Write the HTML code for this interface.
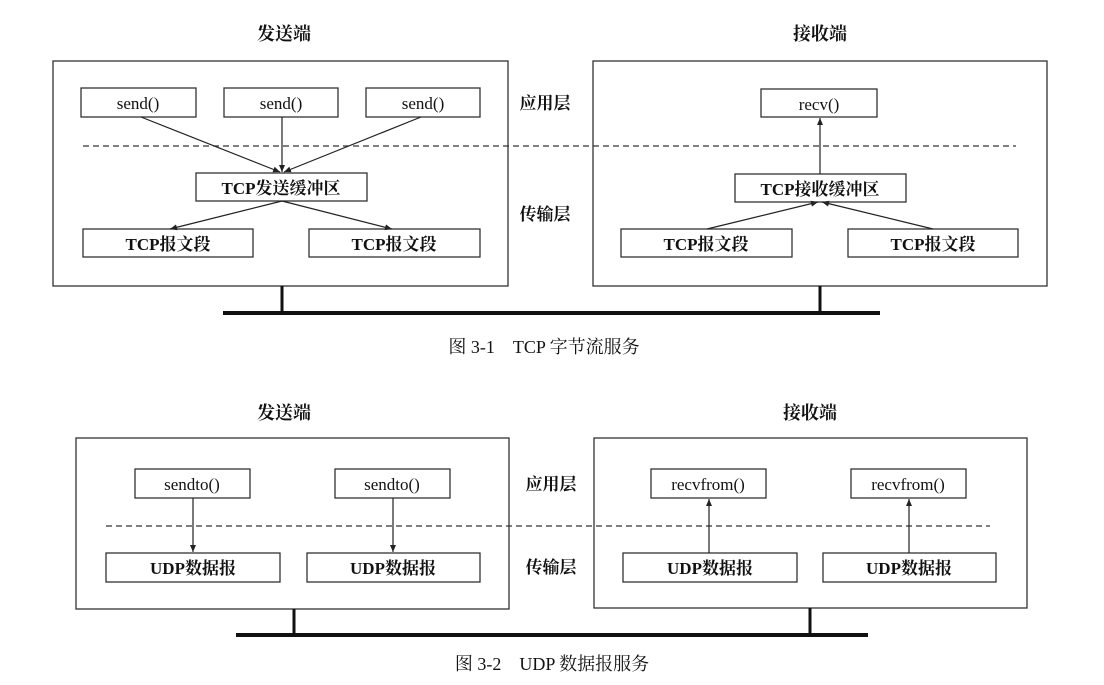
<!DOCTYPE html>
<html><head><meta charset="utf-8"><style>
html,body{margin:0;padding:0;background:#fff;}
svg{display:block;}
text{font-family:"Liberation Serif","Noto Serif CJK SC","Noto Sans CJK SC",serif;fill:#111;}
.b{font-weight:bold;}
</style></head><body>
<svg width="1104" height="685" viewBox="0 0 1104 685" xmlns="http://www.w3.org/2000/svg">
<defs>
<marker id="a" markerWidth="8" markerHeight="8" refX="7" refY="3" orient="auto" markerUnits="userSpaceOnUse"><path d="M0,0 L7,3 L0,6 z" fill="#222"/></marker>
</defs>
<g stroke="#333" fill="none" stroke-width="1.3">
<!-- TCP -->
<rect x="53" y="61" width="455" height="225"/>
<rect x="593" y="61" width="454" height="225"/>
<rect x="81" y="88" width="115" height="29"/>
<rect x="224" y="88" width="114" height="29"/>
<rect x="366" y="88" width="114" height="29"/>
<rect x="196" y="173" width="171" height="28"/>
<rect x="83" y="229" width="170" height="28"/>
<rect x="309" y="229" width="171" height="28"/>
<rect x="761" y="89" width="116" height="28"/>
<rect x="735" y="174" width="171" height="28"/>
<rect x="621" y="229" width="171" height="28"/>
<rect x="848" y="229" width="170" height="28"/>
<line x1="83" y1="146" x2="1016" y2="146" stroke-dasharray="6,4"/>
<!-- UDP -->
<rect x="76" y="438" width="433" height="171"/>
<rect x="594" y="438" width="433" height="170"/>
<rect x="135" y="469" width="115" height="29"/>
<rect x="335" y="469" width="115" height="29"/>
<rect x="106" y="553" width="174" height="29"/>
<rect x="307" y="553" width="173" height="29"/>
<rect x="651" y="469" width="115" height="29"/>
<rect x="851" y="469" width="115" height="29"/>
<rect x="623" y="553" width="174" height="29"/>
<rect x="823" y="553" width="173" height="29"/>
<line x1="106" y1="526" x2="990" y2="526" stroke-dasharray="6,4"/>
</g>
<g stroke="#222" stroke-width="1.2" marker-end="url(#a)">
<line x1="141" y1="117" x2="280" y2="172"/>
<line x1="282" y1="117" x2="282" y2="172"/>
<line x1="421" y1="117" x2="284" y2="172"/>
<line x1="282" y1="201" x2="170" y2="229"/>
<line x1="282" y1="201" x2="392" y2="229"/>
<line x1="707" y1="229" x2="818" y2="202"/>
<line x1="933" y1="229" x2="822" y2="202"/>
<line x1="820" y1="174" x2="820" y2="118"/>
<line x1="193" y1="498" x2="193" y2="552"/>
<line x1="393" y1="498" x2="393" y2="552"/>
<line x1="709" y1="553" x2="709" y2="499"/>
<line x1="909" y1="553" x2="909" y2="499"/>
</g>
<g stroke="#111" fill="none">
<line x1="282" y1="286" x2="282" y2="313" stroke-width="3"/>
<line x1="820" y1="286" x2="820" y2="313" stroke-width="3"/>
<line x1="223" y1="313" x2="880" y2="313" stroke-width="4"/>
<line x1="294" y1="609" x2="294" y2="635" stroke-width="3"/>
<line x1="810" y1="608" x2="810" y2="635" stroke-width="3"/>
<line x1="236" y1="635" x2="868" y2="635" stroke-width="4"/>
</g>
<g text-anchor="middle" font-size="17">
<text x="284" y="40" class="b" font-size="18">发送端</text>
<text x="820" y="40" class="b" font-size="18">接收端</text>
<text x="138" y="109">send()</text>
<text x="281" y="109">send()</text>
<text x="423" y="109">send()</text>
<text x="281" y="194" class="b">TCP发送缓冲区</text>
<text x="168" y="250" class="b">TCP报文段</text>
<text x="394" y="250" class="b">TCP报文段</text>
<text x="819" y="110">recv()</text>
<text x="820" y="195" class="b">TCP接收缓冲区</text>
<text x="706" y="250" class="b">TCP报文段</text>
<text x="933" y="250" class="b">TCP报文段</text>
<text x="545" y="109" class="b">应用层</text>
<text x="545" y="220" class="b">传输层</text>
<text x="544" y="353" font-size="18">图 3-1　TCP 字节流服务</text>

<text x="284" y="419" class="b" font-size="18">发送端</text>
<text x="810" y="419" class="b" font-size="18">接收端</text>
<text x="192" y="490">sendto()</text>
<text x="392" y="490">sendto()</text>
<text x="708" y="490">recvfrom()</text>
<text x="908" y="490">recvfrom()</text>
<text x="193" y="574" class="b">UDP数据报</text>
<text x="393" y="574" class="b">UDP数据报</text>
<text x="710" y="574" class="b">UDP数据报</text>
<text x="909" y="574" class="b">UDP数据报</text>
<text x="551" y="490" class="b">应用层</text>
<text x="551" y="573" class="b">传输层</text>
<text x="552" y="670" font-size="18">图 3-2　UDP 数据报服务</text>
</g>
</svg>
</body></html>
